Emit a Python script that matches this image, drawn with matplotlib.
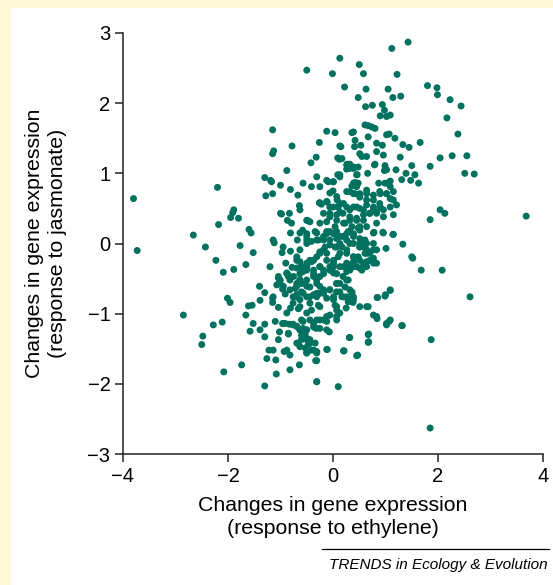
import matplotlib
matplotlib.use("Agg")
import matplotlib.pyplot as plt
from matplotlib.patches import Rectangle
from matplotlib.lines import Line2D

plt.rcParams['font.family'] = ['Liberation Sans', 'DejaVu Sans']

# (ethylene, jasmonate) pairs, grouped by region
outer = [(-3.80, 0.64), (-3.73, -0.10), (-2.85, -1.02), (-2.66, 0.12), (-2.48, -1.32), (-2.50, -1.44),
         (-2.43, -0.05), (-2.28, -1.16), (-2.23, -0.24), (-2.20, 0.80), (-2.18, 0.27), (-2.11, -1.12),
         (-2.09, -0.41), (-2.08, -1.83), (-2.01, -0.78), (-1.96, -0.84), (-1.95, 0.37), (-1.91, 0.44),
         (-1.89, 0.48), (-1.89, -0.37), (-1.80, 0.36), (-1.77, -0.03), (-1.74, -1.73), (-1.66, -0.30),
         (-1.66, -1.02), (-1.61, -0.89), (-1.60, 0.20), (-1.56, 0.15), (-1.54, -0.88), (-1.52, -0.13),
         (-1.52, -1.14), (-1.58, -1.25), (-1.39, -0.81), (-1.39, -1.23), (-1.40, -0.61), (-1.30, -1.15),
         (-1.30, -1.33), (-1.30, -0.70), (-1.30, 0.94), (-1.28, 0.68), (-1.30, -2.03), (-1.22, -1.52),
         (-1.26, -1.64), (-1.20, -0.33), (-1.19, 0.90), (-1.17, 0.88), (-1.15, 0.71), (-1.15, 1.62),
         (-1.15, 1.28), (-1.13, 1.32), (-1.14, 0.05), (-1.12, 0.01), (-1.14, -1.52), (-1.09, -1.66),
         (-1.08, -1.86), (-1.15, -0.78), (-1.15, -0.84), (-1.10, -1.11), (-1.04, -0.91),
         (1.80, 2.25), (1.98, 2.22), (1.99, 2.12), (2.23, 2.05), (2.44, 1.96), (2.17, 1.79), (2.38, 1.56),
         (2.04, 1.22), (2.27, 1.25), (2.55, 1.25), (1.85, 1.10), (1.56, 0.98), (2.51, 1.00), (2.69, 0.99),
         (2.04, 0.48), (2.13, 0.43), (1.85, 0.34), (3.68, 0.39), (1.68, -0.38), (2.08, -0.38),
         (2.61, -0.76), (1.87, -1.37), (1.85, -2.63), (1.50, -0.19), (1.52, -0.21), (1.33, -0.01)]

upper = [(-0.50, 2.47), (-0.01, 2.42), (0.13, 2.64), (0.22, 2.23), (0.50, 2.55), (0.48, 2.08),
         (0.58, 2.42), (0.63, 2.20), (0.62, 1.95), (0.75, 1.97), (0.90, 1.82), (0.94, 1.98), (0.98, 1.90),
         (1.02, 1.81), (1.09, 1.83), (1.05, 2.20), (1.12, 2.78), (1.14, 2.08), (1.22, 2.41), (1.29, 2.10),
         (1.43, 2.87), (0.36, 1.58), (0.39, 1.59), (0.42, 1.47), (0.61, 1.69), (0.67, 1.68), (0.74, 1.66),
         (0.67, 1.52), (0.80, 1.64), (1.02, 1.55), (1.07, 1.56), (1.18, 1.50), (-0.12, 1.60), (0.04, 1.58),
         (-0.26, 1.44), (-0.78, 1.39), (0.15, 1.38), (0.41, 1.38), (0.53, 1.40), (0.83, 1.43), (0.94, 1.40),
         (1.33, 1.41), (1.45, 1.37), (1.66, 1.44), (0.13, 1.39),
         (-1.00, 0.83), (-0.88, 1.04), (-0.81, 0.77), (-0.67, 0.69), (-0.57, 0.86), (-0.42, 1.15),
         (-0.41, 0.81), (-0.32, 1.23), (-0.31, 0.95), (-0.25, 0.81), (-0.25, 0.58), (-0.09, 0.88),
         (-0.06, 0.72), (0.00, 0.75), (0.00, 0.88), (0.12, 1.20), (0.13, 0.98), (0.26, 1.12), (0.32, 1.13),
         (0.39, 1.09), (0.46, 0.98), (0.51, 1.28), (0.55, 1.24), (0.64, 1.24), (0.66, 1.00), (0.80, 1.13),
         (0.96, 1.26), (0.99, 1.11), (1.02, 1.05), (1.20, 1.05), (1.28, 1.23), (1.39, 1.00), (1.50, 1.11),
         (1.31, 0.91), (1.48, 0.90), (1.63, 0.86), (0.83, 1.31), (0.17, 1.21), (0.09, 1.22), (0.09, 0.98),
         (0.27, 1.13), (0.26, 1.06), (0.39, 1.07), (0.48, 1.09), (0.79, 1.12), (0.98, 1.04), (0.45, 0.98),
         (0.42, 0.87), (0.36, 0.82), (0.45, 0.81), (0.87, 0.86), (1.03, 0.86), (1.09, 0.89)]

core = [(-0.12, 0.90), (0.01, 0.88), (0.13, 0.95), (0.32, 1.07), (0.39, 0.86), (0.48, 0.86), (0.42, 0.71),
        (0.32, 0.74), (0.51, 0.71), (0.64, 0.76), (0.77, 0.62), (0.90, 0.71), (0.99, 0.86), (1.09, 0.81),
        (1.02, 0.71), (1.15, 0.62), (1.09, 0.52), (0.90, 0.52), (0.77, 0.48), (0.64, 0.62), (0.58, 0.48),
        (0.45, 0.52), (0.32, 0.48), (0.20, 0.57), (0.07, 0.67), (0.01, 0.52), (-0.12, 0.60), (-0.18, 0.43),
        (-0.06, 0.38), (0.07, 0.33), (0.20, 0.29), (0.32, 0.33), (0.45, 0.33), (0.58, 0.33), (0.70, 0.43),
        (0.83, 0.43), (0.96, 0.38), (0.83, 0.29), (0.64, 0.24), (0.51, 0.24), (0.39, 0.14), (0.26, 0.14),
        (0.13, 0.10), (0.01, 0.14), (-0.12, 0.14), (-0.31, 0.05), (-0.18, 0.05), (-0.06, 0.05), (0.07, -0.05),
        (0.26, 0.05), (0.39, 0.00), (0.51, -0.05), (0.64, 0.00), (0.77, -0.09), (0.64, -0.14), (0.51, -0.24),
        (0.39, -0.19), (0.26, -0.14), (0.13, -0.14), (0.01, -0.24), (-0.12, -0.14), (-0.25, -0.14),
        (-0.37, -0.24), (-0.50, -0.33), (-0.25, -0.33), (0.01, -0.33), (0.26, -0.28), (0.39, -0.33),
        (0.64, -0.33), (0.83, -0.28),
        (0.26, 0.74), (0.39, 0.71), (0.51, 0.66), (0.64, 0.71), (0.77, 0.69), (0.89, 0.74), (1.02, 0.71),
        (1.15, 0.74), (1.09, 0.64), (1.21, 0.55), (0.89, 0.57), (0.77, 0.52), (0.64, 0.55), (0.51, 0.50),
        (0.39, 0.52), (0.26, 0.52), (0.13, 0.57), (0.19, 0.43), (0.32, 0.38), (0.45, 0.36), (0.58, 0.41),
        (0.70, 0.43), (0.83, 0.45), (0.96, 0.48), (0.23, 0.29), (0.36, 0.24), (0.48, 0.22), (0.29, 0.17),
        (0.19, 0.10), (0.39, 0.10), (0.51, 0.07), (0.61, 0.05), (0.32, 0.00), (0.17, -0.05),
        (1.15, 0.41), (0.78, 0.16), (0.95, 0.16), (1.14, 0.13), (1.01, -0.07), (0.77, -0.21), (0.77, -0.28),
        (0.64, -0.26), (0.70, -0.14), (0.58, -0.05), (0.51, 0.00), (0.61, -0.14), (0.48, -0.19),
        (0.39, -0.26), (0.32, -0.33), (0.45, -0.33), (0.55, -0.38), (0.26, -0.40), (0.19, -0.47),
        (0.29, -0.52), (0.23, -0.62), (0.36, -0.69), (0.17, -0.76), (0.39, -0.76), (0.13, -0.57),
        (1.09, -0.66), (0.99, -0.75), (0.84, -0.77)]

left_mid = [(-1.00, 0.43), (-0.87, 0.33), (-0.83, 0.43), (-0.79, 0.29), (-0.81, 0.15), (-0.68, 0.05),
            (-0.64, 0.54), (-0.63, 0.48), (-0.63, 0.15), (-0.58, 0.19), (-0.49, 0.33), (-0.50, 0.05),
            (-0.98, 0.42), (-0.50, 0.33), (-0.44, 0.31), (-0.26, 0.58), (-0.22, 0.56), (-0.11, 0.59),
            (-0.06, 0.52), (0.08, 0.62), (0.10, 0.52), (-0.06, 0.43), (0.07, 0.41), (0.13, 0.45),
            (-0.95, -0.05), (-0.81, -0.11), (-0.90, -0.28), (-0.88, -0.42), (-0.85, -0.47), (-0.78, -0.34),
            (-0.97, -0.13), (-0.50, 0.10), (-0.41, 0.03),
            (-0.31, 0.15), (-0.28, 0.05), (-0.18, 0.10), (-0.25, 0.29), (-0.12, 0.31), (-0.06, 0.17),
            (0.04, 0.24), (0.07, 0.07), (-0.06, -0.02), (0.04, -0.05), (0.13, 0.00), (-0.15, -0.05),
            (-0.25, -0.12),
            (-0.50, 0.14), (-0.34, 0.17), (-0.12, 0.17), (0.07, 0.17), (0.32, 0.17), (0.51, 0.19),
            (0.77, 0.15), (0.96, 0.15), (1.15, 0.13)]

lower = [(-0.69, -0.19), (-0.63, -0.26), (-0.50, -0.33), (-0.44, -0.24), (-0.37, -0.38), (-0.57, -0.40),
         (-0.69, -0.35), (-0.75, -0.47), (-0.85, -0.45), (-1.01, -0.52), (-1.07, -0.59), (-0.95, -0.61),
         (-0.82, -0.66), (-0.69, -0.61), (-0.63, -0.52), (-0.50, -0.52), (-0.44, -0.62), (-0.31, -0.57),
         (-0.25, -0.47), (-0.37, -0.47), (-0.18, -0.38), (-0.06, -0.33), (0.01, -0.42), (0.13, -0.33),
         (0.07, -0.57), (-0.06, -0.66), (-0.18, -0.66), (-0.31, -0.71), (-0.44, -0.76), (-0.57, -0.71),
         (-0.69, -0.76), (-1.14, -0.76),
         (-0.50, 0.00), (-0.63, -0.09), (-0.69, -0.24), (-0.60, -0.33), (-0.50, -0.28), (-0.41, -0.26),
         (-0.31, -0.19), (-0.18, -0.09), (-0.12, -0.24), (-0.25, -0.33), (0.01, -0.28), (0.10, -0.19),
         (0.26, -0.09), (0.39, -0.19), (0.51, -0.05), (0.64, -0.09), (0.77, 0.00), (0.83, -0.09),
         (0.70, -0.24), (0.58, -0.28), (0.51, -0.35), (0.39, -0.28), (0.32, -0.38), (0.20, -0.33),
         (0.07, -0.43), (-0.06, -0.38), (-0.18, -0.43), (-0.37, -0.43), (-0.50, -0.38), (-0.63, -0.43),
         (-0.31, -0.52), (-0.25, -0.61), (-0.18, -0.71), (-0.31, -0.76), (-0.50, -0.61), (-0.69, -0.57),
         (-0.82, -0.52), (-0.95, -0.61), (-1.01, -0.52), (-1.04, -0.47), (-0.88, -0.43), (-0.76, -0.76),
         (-0.63, -0.80), (-0.44, -0.85), (-0.25, -0.90), (-0.06, -0.66), (0.07, -0.57), (0.26, -0.52),
         (0.32, -0.66), (0.20, -0.76), (0.07, -0.90), (0.01, -0.80), (-0.12, -1.04), (-0.25, -1.09),
         (-0.37, -1.14), (-0.50, -1.23), (-0.63, -1.23), (-0.57, -1.33), (-0.50, -1.37), (-0.44, -1.42),
         (-0.37, -1.52), (-0.31, -1.56), (-0.50, -1.56), (-0.63, -1.47), (-0.12, -1.23), (0.07, -1.04),
         (0.07, -0.95), (0.26, -0.76), (0.39, -0.80), (0.51, -0.90), (0.64, -0.90), (0.83, -1.04),
         (1.02, -1.14), (1.09, -1.09), (1.31, -1.17), (0.67, -1.30), (0.67, -1.41), (0.32, -1.34),
         (0.20, -1.53), (0.45, -1.60), (-0.12, -1.51), (-0.31, -1.67), (-0.31, -1.97), (0.10, -2.04),
         (-0.88, -0.99), (-0.82, -1.80), (-0.76, -1.15), (-0.72, -0.64), (-0.81, -0.92), (-0.69, -1.18),
         (-0.69, -1.42), (-0.64, -1.73), (-0.66, -0.93), (-0.63, -0.52), (-0.60, -0.57), (-0.60, -1.09),
         (-0.57, -1.23), (-1.04, -0.49), (-1.01, -0.54), (-0.96, -0.65), (-0.91, -0.72), (-0.95, -1.14),
         (-1.02, -1.26), (-1.04, -1.37), (-0.93, -1.54), (-0.88, -1.52), (-0.82, -1.59), (-0.85, -1.29),
         (-0.96, -1.14), (-0.91, -1.14), (-0.83, -1.15), (-0.76, -1.16), (-0.85, -1.28),
         (-0.69, -1.18), (-0.63, -1.23), (-0.57, -1.21), (-0.60, -1.31), (-0.53, -1.28), (-0.50, -1.35),
         (-0.60, -1.37), (-0.44, -1.37), (-0.47, -1.44), (-0.53, -1.49), (-0.41, -1.52), (-0.34, -1.42),
         (-0.31, -1.54), (-0.50, -1.56), (-0.66, -1.42), (-0.33, -1.67), (-0.11, -1.51), (-0.07, -1.26),
         (-0.32, -1.21), (-0.31, -1.97),
         (-0.76, -0.85), (-0.63, -0.90), (-0.50, -0.99), (-0.41, -0.95), (-0.28, -0.88), (-0.18, -1.09),
         (-0.31, -1.09), (-0.12, -1.11), (-0.06, -1.02), (0.04, -0.88), (0.07, -1.09), (-0.37, -1.19),
         (-0.25, -1.21), (-0.57, -1.11), (-0.44, -1.09), (-0.50, -0.76), (-0.37, -0.73), (-0.25, -0.71),
         (-0.12, -0.78), (0.01, -0.76), (0.07, -0.69), (-0.69, -0.73), (-0.60, -0.69),
         (0.13, -0.69), (0.36, -0.70), (0.26, -0.77), (0.29, -0.83), (0.38, -0.84), (0.13, -0.99),
         (0.25, -0.92), (0.85, -0.77), (1.00, -0.73), (1.09, -0.67), (0.67, -0.90), (0.77, -1.02),
         (0.84, -1.07), (1.02, -1.16), (1.07, -1.11), (1.32, -1.17), (0.31, -1.34), (0.68, -1.29),
         (0.68, -1.40), (0.21, -1.53), (0.47, -1.59)]

points = outer + upper + core + left_mid + lower
ethylene = [p[0] for p in points]
jasmonate = [p[1] for p in points]

xticks = [-4, -2, 0, 2, 4]
yticks = [-3, -2, -1, 0, 1, 2, 3]

W, H = 553, 585
fig = plt.figure(figsize=(W / 100, H / 100), dpi=100)
fig.patch.set_facecolor('#fdf9d6')
fig.add_artist(Rectangle((11 / W, 0), 1, 1 - 8 / H, transform=fig.transFigure,
                         facecolor='white', edgecolor='none', zorder=0))

ax = fig.add_axes([123 / W, 1 - 454 / H, 420 / W, 421 / H])
ax.set_facecolor('none')
ax.scatter(ethylene, jasmonate, s=25, color='#00725f', edgecolors='none', zorder=3)

ax.set_xlim(-4, 4)
ax.set_ylim(-3, 3)
ax.set_xticks(xticks)
ax.set_yticks(yticks)
for s in ['top', 'right']:
    ax.spines[s].set_visible(False)
for s in ['left', 'bottom']:
    ax.spines[s].set_linewidth(1.1)
    ax.spines[s].set_color('#222222')
ax.tick_params(direction='out', length=6, width=1.1, color='#222222',
               labelsize=14.5, pad=3)

fig.text(333 / W, 1 - 517 / H, "Changes in gene expression\n(response to ethylene)",
         ha='center', va='center', fontsize=15.3, linespacing=1.25)
fig.text(46 / W, 1 - 243 / H, "Changes in gene expression\n(response to jasmonate)",
         ha='center', va='center', fontsize=15.3, linespacing=1.25, rotation=90)

fig.add_artist(Line2D([322 / W, 549 / W], [1 - 549 / H, 1 - 549 / H],
                      transform=fig.transFigure, color='black', linewidth=0.9))
fig.text(548 / W, 1 - 565 / H, "TRENDS in Ecology & Evolution", ha='right', va='center',
         fontsize=11.0, style='italic')

fig.savefig('out.png', dpi=100, facecolor=fig.get_facecolor())
